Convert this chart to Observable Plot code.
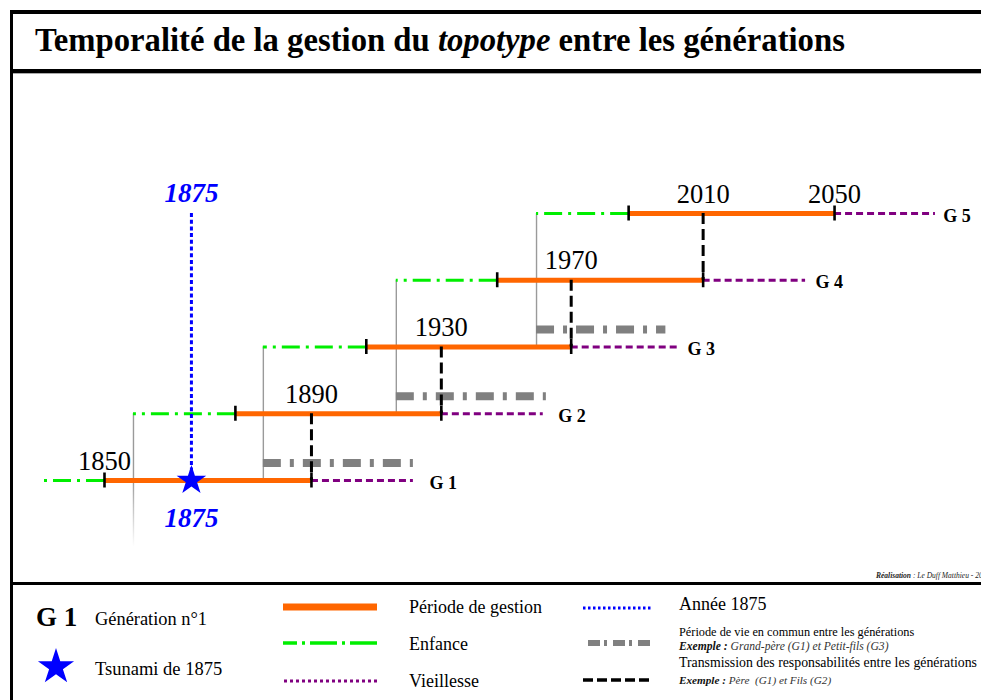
<!DOCTYPE html>
<html lang="fr">
<head>
<meta charset="utf-8">
<script src="https://cdn.jsdelivr.net/npm/d3@7"></script>
<script src="https://cdn.jsdelivr.net/npm/@observablehq/plot@0.6"></script>
<style>
html,body{margin:0;padding:0;background:#fff;}
body{width:981px;height:700px;overflow:hidden;position:relative;font-family:"Liberation Serif","Times New Roman",serif;color:#000;}
.bar{position:absolute;background:#000;z-index:5;}
#title{position:absolute;left:35px;top:23.8px;font-size:32.7px;line-height:1;font-weight:bold;white-space:nowrap;}
#chart{position:absolute;left:0;top:74px;width:981px;}
#legend{position:absolute;left:0;top:584px;}
#credit{position:absolute;left:876px;top:571.7px;font-size:7.5px;line-height:1;white-space:nowrap;color:#222;}
</style>
</head>
<body>
<div class="bar" style="left:10px;top:10px;width:1000px;height:3.5px"></div>
<div class="bar" style="left:10px;top:10px;width:3.2px;height:700px"></div>
<div id="title">Temporalité de la gestion du <i>topotype</i> entre les générations</div>
<div class="bar" style="left:10px;top:69px;width:1000px;height:3.5px"></div>
<div style="position:absolute;left:13px;top:72.5px;width:1000px;height:1.5px;background:#aaa"></div>
<div id="chart"></div>
<div id="credit"><b><i>Réalisation</i></b><i> : Le Duff Matthieu - 20</i></div>
<div class="bar" style="left:10px;top:581.5px;width:1000px;height:3px"></div>
<div id="legend"></div>
<script>
// ---- Data (schematic timeline units: G1 management = 0 → 40) ----
const generations   = [1, 2, 3, 4, 5];
const genLabels     = ["G 1", "G 2", "G 3", "G 4", "G 5"];
const enfanceStart  = [-12.4, 5.6, 30.7, 56.4, 83.5];
const gestionStart  = [0, 25.3, 50.6, 75.9, 101.3];
const gestionEnd    = [40, 65.1, 90.2, 115.7, 141.1];
const vieillesseEnd = [59.7, 84.8, 110.7, 135.5, 160.6];
const genLabelPos   = [62.8, 87.7, 112.7, 137.4, 162.1];

const sharedGen   = [1, 2, 3];
const sharedStart = [30.7, 56.4, 83.5];
const sharedEnd   = [59.7, 85.4, 108.5];

const transmissionGen = [1, 2, 3, 4];
const transmissionPos = [40, 65.1, 90.2, 115.7];

const yearLabels   = ["1850", "1890", "1930", "1970", "2010", "2050"];
const yearLabelPos = [0, 40, 65.1, 90.2, 115.7, 141.1];
const yearLabelGen = [1, 2, 3, 4, 5, 5];

const tsunamiLabel = "1875";
const tsunamiPos = 16.8;
const tsunamiGen = 1;

// ---- Tables built from arrays ----
const gens = generations.map((g, i) => ({
  gen: g, label: genLabels[i], enf: enfanceStart[i], g0: gestionStart[i],
  g1: gestionEnd[i], vEnd: vieillesseEnd[i], lab: genLabelPos[i]
}));
const births = gens.filter(d => d.gen >= 2).map(d => ({x: d.enf, top: d.gen, bottom: d.gen - 2}));
const shared = sharedGen.map((g, i) => ({gen: g, x1: sharedStart[i], x2: sharedEnd[i]}));
const transmissions = transmissionGen.map((g, i) => ({x: transmissionPos[i], lower: g, upper: g + 1}));
const ticks = gens.flatMap(d => [{x: d.g0, gen: d.gen}, {x: d.g1, gen: d.gen}]);
const years = yearLabels.map((t, i) => ({text: t, x: yearLabelPos[i], gen: yearLabelGen[i]}));
const tsunami = [{x: tsunamiPos, gen: tsunamiGen, top: generations[generations.length - 1]}];

const ORANGE = "#ff6600", GREEN = "#00ee00", PURPLE = "#800080", BLUE = "#0000ff", GRAY = "#808080";
const SERIF = "Liberation Serif, Times New Roman, serif";

const chart = Plot.plot({
  width: 981, height: 507,
  margin: 0,
  style: {background: "none", fontFamily: SERIF, overflow: "visible"},
  x: {domain: [-20.1, 169.5], range: [0, 981], axis: null},
  y: {domain: [1, 5], range: [406, 139], axis: null},
  marks: [
    // birth verticals (grey thin)
    Plot.ruleX(births, {x: "x", y1: "top", y2: d => Math.max(d.bottom, 1), stroke: "#9a9a9a", strokeWidth: 1.4}),
    Plot.ruleX(births.filter(d => d.bottom < 1), {x: "x", y1: 1, y2: "bottom", stroke: "url(#fadeGray)", strokeWidth: 1.4}),
    // shared life
    Plot.ruleY(shared, {y: "gen", x1: "x1", x2: "x2", dy: -17.5, stroke: GRAY, strokeWidth: 8, strokeDasharray: "18,9,4,9"}),
    // childhood
    Plot.ruleY(gens, {y: "gen", x1: "g0", x2: "enf", stroke: GREEN, strokeWidth: 3, strokeDasharray: "18,6,3,6"}),
    // old age
    Plot.ruleY(gens, {y: "gen", x1: "g1", x2: "vEnd", stroke: PURPLE, strokeWidth: 3, strokeDasharray: "7,4"}),
    // management
    Plot.ruleY(gens, {y: "gen", x1: "g0", x2: "g1", stroke: ORANGE, strokeWidth: 5}),
    // tsunami year line
    Plot.ruleX(tsunami, {x: "x", y1: "top", y2: "gen", stroke: BLUE, strokeWidth: 3, strokeDasharray: "4,2.7"}),
    // transmission
    Plot.ruleX(transmissions, {x: "x", y1: "upper", y2: "lower", stroke: "#000", strokeWidth: 3, strokeDasharray: "11,5"}),
    // ticks
    Plot.ruleX(ticks, {x: "x", y1: "gen", y2: "gen", insetTop: -7.5, insetBottom: -7.5, stroke: "#000", strokeWidth: 2.6}),
    // tsunami star
    Plot.dot(tsunami, {x: "x", y: "gen", symbol: "star", r: 9.3, fill: BLUE, stroke: "none"}),
    // year labels
    Plot.text(years, {x: "x", y: "gen", text: "text", lineAnchor: "bottom", dy: -11, fontSize: 26.5, fontFamily: SERIF, fill: "#000"}),
    Plot.text(tsunami, {x: "x", y: "top", text: () => tsunamiLabel, lineAnchor: "bottom", dy: -11.5, fontSize: 27, fontFamily: SERIF, fontWeight: "bold", fontStyle: "italic", fill: BLUE}),
    Plot.text(tsunami, {x: "x", y: "gen", text: () => tsunamiLabel, lineAnchor: "bottom", dy: 46, fontSize: 27, fontFamily: SERIF, fontWeight: "bold", fontStyle: "italic", fill: BLUE}),
    // generation labels
    Plot.text(gens, {x: "lab", y: "gen", text: "label", textAnchor: "start", lineAnchor: "bottom", dy: 8, fontSize: 18, fontFamily: SERIF, fontWeight: "bold", fill: "#000"})
  ]
});

// gradient for fading birth line below G1 (coordinates from the y scale)
const ys = chart.scale("y");
const yA = ys.apply(1), yB = ys.apply(0);
chart.insertAdjacentHTML("afterbegin",
  `<defs><linearGradient id="fadeGray" gradientUnits="userSpaceOnUse" x1="0" y1="${yA}" x2="0" y2="${yB}">
   <stop offset="0" stop-color="#9a9a9a" stop-opacity="1"/><stop offset="1" stop-color="#9a9a9a" stop-opacity="0"/></linearGradient></defs>`);
document.getElementById("chart").appendChild(chart);

// ---- Legend ----
const starPath = d3.symbol(d3.symbolStar, 19 * 19 / 0.8908130915292852)();
const legendSvg = `
<svg width="981" height="116" xmlns="http://www.w3.org/2000/svg" style="font-family:'Liberation Serif','Times New Roman',serif">
  <text x="36" y="42" font-size="27" font-weight="bold">G 1</text>
  <text x="95" y="41" font-size="18.4">Génération n°1</text>
  <path d="${starPath}" transform="translate(56,83)" fill="${BLUE}"/>
  <text x="95" y="91" font-size="18.5">Tsunami de 1875</text>

  <line x1="283" x2="377" y1="23" y2="23" stroke="${ORANGE}" stroke-width="7"/>
  <text x="409" y="29" font-size="18">Période de gestion</text>
  <line x1="377" x2="283" y1="59" y2="59" stroke="${GREEN}" stroke-width="3.5" stroke-dasharray="27,5,3,5"/>
  <text x="409" y="66" font-size="18">Enfance</text>
  <line x1="284" x2="377" y1="97" y2="97" stroke="${PURPLE}" stroke-width="3" stroke-dasharray="3,3"/>
  <text x="409" y="103" font-size="18">Vieillesse</text>

  <line x1="583" x2="653" y1="24" y2="24" stroke="${BLUE}" stroke-width="3" stroke-dasharray="2.5,2.5"/>
  <text x="679" y="26" font-size="18">Année 1875</text>
  <line x1="588" x2="653" y1="59" y2="59" stroke="${GRAY}" stroke-width="6" stroke-dasharray="12,4,3,6"/>
  <text x="679" y="52" font-size="12.3">Période de vie en commun entre les générations</text>
  <text x="679" y="66" font-size="11.6" fill="#333"><tspan font-weight="bold" font-style="italic" fill="#111">Exemple :</tspan><tspan font-style="italic"> Grand-père (G1) et Petit-fils (G3)</tspan></text>
  <line x1="583" x2="653" y1="96" y2="96" stroke="#000" stroke-width="3.5" stroke-dasharray="10,4"/>
  <text x="679" y="83" font-size="13.8">Transmission des responsabilités entre les générations</text>
  <text x="679" y="100" font-size="11.2" fill="#333"><tspan font-weight="bold" font-style="italic" fill="#111">Exemple :</tspan><tspan font-style="italic" xml:space="preserve"> Père  (G1) et Fils (G2)</tspan></text>
</svg>`;
document.getElementById("legend").innerHTML = legendSvg;
</script>
</body>
</html>
